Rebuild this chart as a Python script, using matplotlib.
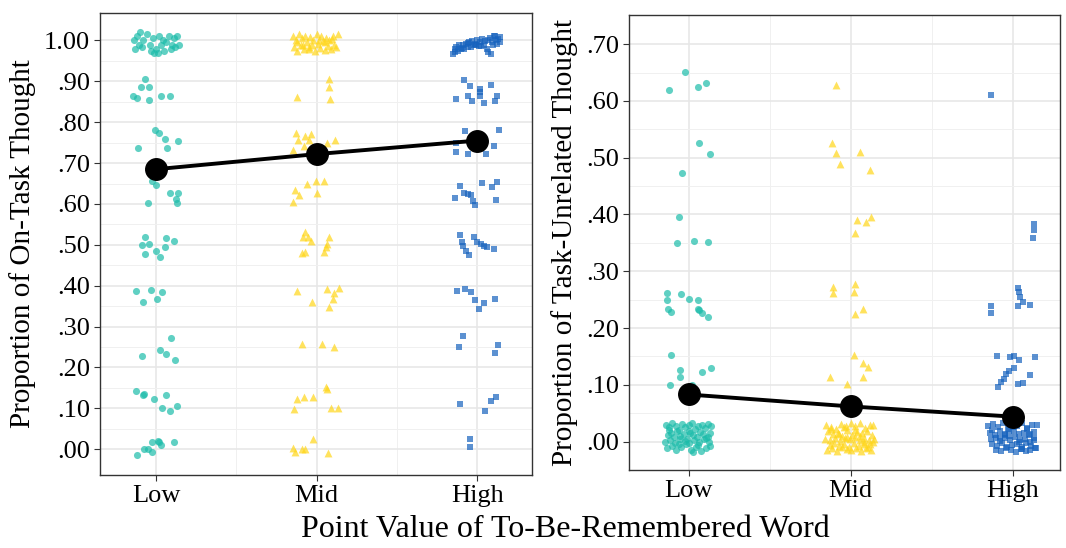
import numpy as np
import matplotlib
matplotlib.use("Agg")
import matplotlib.pyplot as plt

plt.rcParams['font.family'] = ['Liberation Serif', 'DejaVu Serif']

groups = ['Low', 'Mid', 'High']
colors = ['#1cbcaa', '#ffd619', '#1763be']
markers = ['o', '^', 's']
msizes = [26, 32, 24]

# means (black line)
ontask_means = [0.685, 0.722, 0.755]
unrel_means = [0.083, 0.062, 0.044]

# ---- On-task thought: individual participants (y value, x jitter)
on_low_y = [0.905, 0.885, 0.887, 0.865, 0.858, 0.854, 0.865, 0.865,
            0.780, 0.774, 0.759, 0.754, 0.738, 0.737,
            0.655, 0.646, 0.626, 0.626, 0.613, 0.603, 0.603,
            0.519, 0.516, 0.510, 0.500, 0.501, 0.477, 0.485, 0.495, 0.470,
            0.387, 0.390, 0.385, 0.361, 0.368,
            0.272, 0.243, 0.232, 0.227, 0.219,
            0.142, 0.132, 0.134, 0.124, 0.133, 0.102, 0.093, 0.106,
            0.018, 0.020, 0.017, 0.011, 0.018, 0.001, 0.000, -0.007, -0.013,
            1.00, 0.98, 1.01, 0.99, 1.02, 0.985, 1.00, 1.015, 0.99, 0.975, 1.005, 0.98, 0.97,
            1.01, 0.99, 1.00, 0.975, 0.995, 1.01, 0.98, 0.99, 1.005, 0.985, 1.01, 0.99, 0.97]
on_low_dx = [-0.069, -0.096, -0.044, -0.143, -0.118, -0.046, 0.033, 0.089,
             -0.008, 0.019, 0.058, 0.133, -0.114, 0.069,
             -0.023, -0.004, 0.087, 0.135, 0.123, 0.129, -0.052,
             -0.069, 0.064, 0.110, -0.087, -0.044, -0.069, -0.002, 0.058, 0.027,
             -0.127, -0.033, 0.039, -0.079, 0.008,
             0.091, 0.023, 0.062, -0.087, 0.116,
             -0.127, -0.085, -0.075, -0.015, 0.062, 0.039, 0.085, 0.129,
             -0.025, 0.012, 0.017, 0.029, 0.110, -0.075, -0.050, -0.029, -0.120,
             -0.14, -0.13, -0.12, -0.11, -0.10, -0.09, -0.08, -0.06, -0.04, -0.03, -0.02, 0.00, 0.01,
             0.02, 0.03, 0.04, 0.05, 0.06, 0.08, 0.09, 0.10, 0.11, 0.12, 0.13, 0.14, -0.015]

on_mid_y = [0.905, 0.887, 0.861, 0.857,
            0.773, 0.757, 0.767, 0.772, 0.757, 0.742, 0.732, 0.749, 0.757,
            0.648, 0.655, 0.657, 0.628, 0.635, 0.622, 0.606,
            0.532, 0.520, 0.520, 0.518, 0.510, 0.502, 0.494, 0.480, 0.482, 0.483,
            0.387, 0.391, 0.394, 0.382, 0.367, 0.359, 0.349,
            0.258, 0.258, 0.249,
            0.153, 0.147, 0.129, 0.122, 0.129, 0.098, 0.100, 0.101,
            0.025, 0.002, -0.007, 0.000, 0.001, -0.010,
            1.010, 0.985, 1.000, 0.975, 1.015, 0.990, 1.005, 0.980, 1.012, 0.995,
            0.978, 1.008, 0.988, 1.002, 0.975, 1.015, 0.992, 0.982, 1.010, 0.998,
            0.976, 1.006, 0.986, 1.000, 0.980, 1.010, 0.990, 0.984, 1.016, 0.995,
            0.990, 0.985, 1.000, 0.995, 1.004]
on_mid_dx = [0.079, 0.079, -0.120, 0.083,
             -0.129, -0.116, -0.073, -0.033, -0.046, -0.081, -0.145, 0.066, 0.116,
             -0.058, -0.004, 0.046, 0.000, -0.135, -0.110, -0.145,
             -0.073, -0.087, -0.052, 0.079, -0.037, 0.062, 0.058, -0.089, -0.073, 0.046,
             -0.125, 0.062, 0.137, 0.108, 0.104, -0.031, 0.077,
             -0.093, 0.031, 0.110,
             0.058, 0.064, -0.079, -0.125, -0.023, -0.141, 0.087, 0.131,
             -0.023, -0.145, -0.133, -0.091, -0.071, 0.069,
             -0.15, -0.14, -0.13, -0.12, -0.11, -0.10, -0.09, -0.08, -0.07, -0.06,
             -0.05, -0.04, -0.03, -0.02, -0.01, 0.00, 0.01, 0.02, 0.03, 0.04,
             0.05, 0.06, 0.07, 0.08, 0.09, 0.10, 0.11, 0.12, 0.13, -0.125,
             -0.085, -0.045, 0.015, 0.055, 0.095]

on_high_y = [0.904, 0.889, 0.891, 0.881, 0.873, 0.857, 0.863, 0.851, 0.863, 0.848, 0.852, 0.863,
             0.779, 0.781, 0.769, 0.749, 0.726, 0.721, 0.723, 0.742,
             0.643, 0.651, 0.641, 0.654, 0.626, 0.624, 0.621, 0.614, 0.608, 0.597, 0.610,
             0.525, 0.519, 0.508, 0.496, 0.486, 0.474, 0.508, 0.502, 0.496, 0.494, 0.489,
             0.386, 0.392, 0.385, 0.365, 0.357, 0.344, 0.368,
             0.277, 0.251, 0.255, 0.235,
             0.110, 0.127, 0.118, 0.093,
             0.025, 0.006,
             0.968, 0.978, 0.985, 0.975, 0.988, 0.980, 0.990, 0.978, 0.992, 0.985,
             0.995, 0.984, 0.998, 0.988, 0.990, 1.000, 0.986, 0.996, 1.004, 0.990,
             0.998, 0.980, 0.972, 1.006, 0.996, 0.990, 1.010, 1.000, 1.004, 0.996,
             0.972, 0.982, 0.994, 0.992, 0.986, 1.002, 0.968, 1.012, 0.992, 1.008]
on_high_dx = [-0.083, -0.042, 0.087, 0.015, 0.015, -0.129, -0.056, -0.033, 0.017, 0.044, 0.110, 0.123,
              -0.075, 0.137, -0.019, -0.133, -0.133, -0.058, 0.054, 0.106,
              -0.108, 0.031, 0.091, 0.123, -0.079, -0.056, -0.037, -0.139, -0.025, -0.015, 0.120,
              -0.106, -0.021, -0.096, -0.087, -0.071, -0.052, 0.000, 0.021, 0.042, 0.062, 0.104,
              -0.125, -0.077, -0.039, -0.015, 0.042, 0.012, 0.110,
              -0.089, -0.110, 0.127, 0.112,
              -0.106, 0.118, 0.085, 0.046,
              -0.044, -0.042,
              -0.15, -0.14, -0.13, -0.12, -0.11, -0.10, -0.09, -0.08, -0.07, -0.06,
              -0.05, -0.04, -0.03, -0.02, -0.01, 0.00, 0.01, 0.02, 0.03, 0.04,
              0.05, 0.06, 0.07, 0.08, 0.09, 0.10, 0.11, 0.12, 0.13, 0.14,
              -0.135, -0.095, -0.055, -0.015, 0.025, 0.065, 0.085, 0.105, 0.125, 0.145]

# ---- Task-unrelated thought
tu_low_y = [0.651, 0.620, 0.625, 0.632, 0.526, 0.507, 0.473, 0.396, 0.350, 0.354, 0.351,
            0.262, 0.260, 0.249, 0.252, 0.249, 0.234, 0.229, 0.234, 0.231, 0.226, 0.220,
            0.153, 0.126, 0.113, 0.123, 0.129, 0.099, 0.099,
            0.030, 0.025, 0.032, 0.028, 0.020, 0.031, 0.026, 0.029, 0.033, 0.022, 0.027, 0.030, 0.024, 0.031, 0.028,
            0.012, 0.015, 0.008, 0.018, 0.010, 0.014, 0.005, 0.016, 0.011, 0.009, 0.017, 0.013, 0.006, 0.015,
            0.000, 0.003, -0.002, 0.004, 0.001, -0.003, 0.002, 0.000, 0.005, -0.001,
            -0.012, -0.008, -0.015, -0.010, -0.005, -0.014, -0.009, -0.016, -0.011, -0.007,
            0.021, -0.004, 0.019, -0.006, 0.008, -0.018]
tu_low_dx = [-0.020, -0.121, 0.059, 0.110, 0.067, 0.131, -0.043, -0.061, -0.074, 0.031, 0.117,
             -0.133, -0.047, -0.133, 0.004, 0.059, -0.127, -0.106, 0.059, 0.067, 0.082, 0.117,
             -0.106, -0.053, -0.053, 0.082, 0.139, -0.117, 0.020,
             -0.14, -0.12, -0.10, -0.08, -0.06, -0.04, -0.02, 0.00, 0.02, 0.04, 0.06, 0.08, 0.10, 0.12, 0.14,
             -0.13, -0.11, -0.09, -0.07, -0.05, -0.03, -0.01, 0.01, 0.03, 0.05, 0.07, 0.09, 0.11, 0.13,
             -0.145, -0.115, -0.085, -0.055, -0.025, 0.005, 0.035, 0.065, 0.095, 0.125,
             -0.135, -0.105, -0.075, -0.045, -0.015, 0.015, 0.045, 0.075, 0.105, 0.135,
             -0.12, -0.06, 0.0, 0.06, 0.12, 0.03]

tu_mid_y = [0.628, 0.526, 0.508, 0.489, 0.510, 0.478, 0.390, 0.386, 0.395, 0.367,
            0.272, 0.261, 0.278, 0.264, 0.233, 0.225,
            0.153, 0.138, 0.132, 0.113, 0.113, 0.102,
            0.030, 0.025, 0.022, 0.031, 0.028, 0.033, 0.027, 0.032, 0.024, 0.029, 0.030,
            0.018, 0.014, 0.016, 0.010, 0.020, 0.012, 0.017, 0.015, 0.019, 0.011,
            0.005, 0.003, 0.007, 0.001, 0.006, 0.004, 0.008, 0.002, 0.006, 0.003, 0.005,
            -0.006, -0.002, -0.008, -0.004, -0.010, -0.003, -0.007, -0.005, -0.009, -0.001,
            -0.014, -0.012, -0.016, -0.010, -0.013, -0.015, -0.011, -0.017, -0.012, -0.014,
            0.023, 0.013, 0.009, 0.021, 0.000, -0.004, 0.026, 0.010]
tu_mid_dx = [-0.090, -0.117, -0.088, -0.065, 0.055, 0.121, 0.037, 0.094, 0.129, 0.029,
             -0.106, -0.106, 0.029, 0.020, 0.074, 0.025,
             0.018, 0.074, 0.110, -0.125, 0.074, -0.025,
             -0.15, -0.12, -0.09, -0.06, -0.03, 0.00, 0.03, 0.06, 0.09, 0.12, 0.14,
             -0.14, -0.11, -0.08, -0.05, -0.02, 0.01, 0.04, 0.07, 0.10, 0.13,
             -0.155, -0.125, -0.095, -0.065, -0.035, -0.005, 0.025, 0.055, 0.085, 0.115, 0.145,
             -0.13, -0.10, -0.07, -0.04, -0.01, 0.02, 0.05, 0.08, 0.11, 0.14,
             -0.145, -0.115, -0.085, -0.055, -0.025, 0.005, 0.035, 0.065, 0.095, 0.125,
             -0.12, -0.07, -0.02, 0.03, 0.08, 0.12, -0.04, 0.06]

tu_high_y = [0.611, 0.383, 0.373, 0.358,
             0.270, 0.264, 0.255, 0.246, 0.238, 0.240, 0.239, 0.227,
             0.150, 0.149, 0.150, 0.144, 0.149, 0.129, 0.125, 0.119, 0.110, 0.105, 0.097, 0.117, 0.104, 0.101,
             0.028, 0.031, 0.025, 0.033, 0.022, 0.030, 0.027, 0.032, 0.024, 0.029, 0.030,
             0.016, 0.012, 0.019, 0.014, 0.010, 0.018, 0.013, 0.015, 0.011, 0.017,
             0.004, 0.007, 0.001, 0.006, 0.003, 0.008, 0.002, 0.005, 0.000, 0.006,
             -0.005, -0.008, -0.003, -0.010, -0.006, -0.004, -0.009, -0.002, -0.007, -0.011,
             -0.014, -0.016, -0.012, -0.015, -0.018, -0.013, -0.017, -0.014, -0.012,
             0.021, 0.009, 0.020, -0.001, 0.023, 0.002, 0.011, -0.013, 0.026, 0.014]
tu_high_dx = [-0.133, 0.133, 0.129, 0.123,
              0.035, 0.039, 0.047, 0.061, 0.035, 0.108, -0.133, -0.133,
              -0.096, -0.016, 0.010, 0.041, 0.137, 0.006, -0.025, -0.041, -0.055, -0.072, -0.092, 0.108, 0.067, 0.035,
              -0.15, -0.12, -0.09, -0.06, -0.03, 0.00, 0.03, 0.06, 0.09, 0.12, 0.15,
              -0.14, -0.11, -0.08, -0.05, -0.02, 0.01, 0.04, 0.07, 0.10, 0.13,
              -0.135, -0.105, -0.075, -0.045, -0.015, 0.015, 0.045, 0.075, 0.105, 0.135,
              -0.125, -0.095, -0.065, -0.035, -0.005, 0.025, 0.055, 0.085, 0.115, 0.145,
              -0.10, -0.07, -0.04, -0.01, 0.02, 0.05, 0.08, 0.11, 0.14,
              -0.13, -0.08, -0.02, 0.04, 0.09, 0.13, -0.05, 0.06, 0.00, 0.11]

ontask_pts = [(on_low_y, on_low_dx), (on_mid_y, on_mid_dx), (on_high_y, on_high_dx)]
unrel_pts = [(tu_low_y, tu_low_dx), (tu_mid_y, tu_mid_dx), (tu_high_y, tu_high_dx)]

fig = plt.figure(figsize=(10.66, 5.48), dpi=100)
ax1 = fig.add_axes([0.0938, 0.1332, 0.405, 0.843])
ax2 = fig.add_axes([0.590, 0.1423, 0.404, 0.830])


def draw_panel(ax, pts, means, yticks, ylim, xlim, ylabel):
    for i, (ys, dxs) in enumerate(pts):
        x = (i + 1) + np.array(dxs)
        ax.scatter(x, ys, s=msizes[i], marker=markers[i], color=colors[i],
                   alpha=0.7, linewidths=0, zorder=3)
    ax.plot([1, 2, 3], means, color='black', lw=2.8, zorder=4)
    ax.plot([1, 2, 3], means, 'o', color='black', ms=15.5, zorder=5)

    ax.set_xlim(*xlim)
    ax.set_ylim(*ylim)
    ax.set_xticks([1, 2, 3])
    ax.set_xticklabels(groups)
    ax.set_xticks([1.5, 2.5], minor=True)
    ax.set_yticks(yticks)
    ax.set_yticklabels([('%.2f' % t).replace('0.', '.') if t < 1 else '%.2f' % t for t in yticks])
    ax.set_yticks(np.array(yticks[:-1]) + 0.05, minor=True)
    ax.grid(which='major', color='#e6e6e6', lw=1.1, zorder=0)
    ax.grid(which='minor', color='#f0f0f0', lw=0.7, zorder=0)
    ax.set_axisbelow(True)
    for sp in ax.spines.values():
        sp.set_color('#333333')
        sp.set_linewidth(1.0)
    ax.tick_params(which='major', length=4, color='#333333', labelsize=19, labelcolor='black', pad=3)
    ax.tick_params(which='minor', length=0)
    ax.set_ylabel(ylabel, fontsize=21, labelpad=6)


draw_panel(ax1, ontask_pts, ontask_means, [round(0.1 * k, 1) for k in range(11)],
           (-0.063, 1.067), (0.65, 3.34), 'Proportion of On-Task Thought')
draw_panel(ax2, unrel_pts, unrel_means, [round(0.1 * k, 1) for k in range(8)],
           (-0.05, 0.751), (0.632, 3.29), 'Proportion of Task-Unrelated Thought')

fig.text(0.53, 0.008, 'Point Value of To-Be-Remembered Word', ha='center', va='bottom', fontsize=23)

fig.savefig('out.png', dpi=100)
